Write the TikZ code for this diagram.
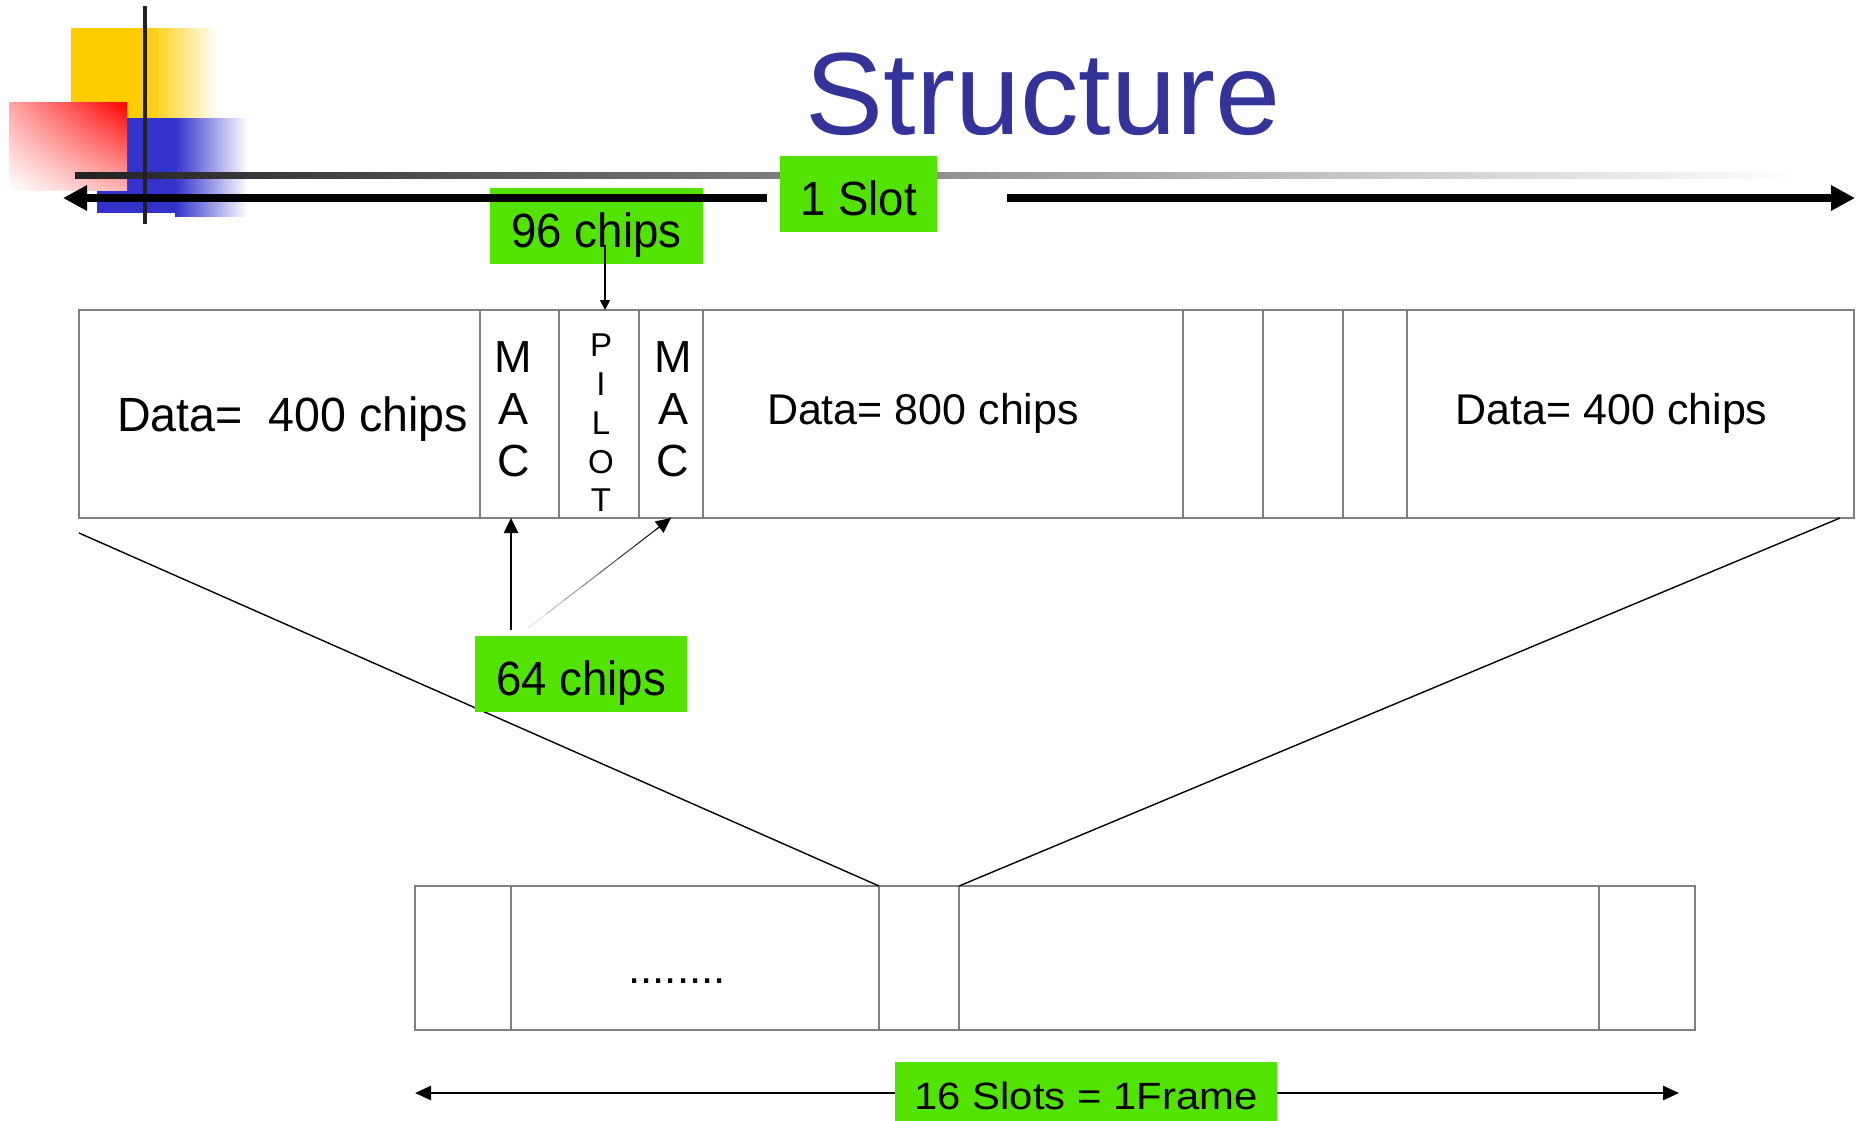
\documentclass[tikz,border=0pt]{standalone}
\usepackage{fontspec}
\setmainfont{Liberation Sans}
\newfontfamily\wideleft[FakeStretch=0.97]{Liberation Sans}
\newfontfamily\widemid[FakeStretch=1.0]{Liberation Sans}
\newfontfamily\labelfont[FakeStretch=0.95]{Liberation Sans}
\newfontfamily\framefont[FakeStretch=1.1]{Liberation Sans}
\usetikzlibrary{arrows.meta,calc,shadings}
\definecolor{titleblue}{RGB}{51,51,153}
\definecolor{lblgreen}{RGB}{82,227,0}
\definecolor{cellgray}{RGB}{128,128,128}
\definecolor{decoyellow}{RGB}{255,204,0}
\definecolor{decoblue}{RGB}{51,51,204}
\definecolor{decored}{RGB}{255,0,0}
\begin{document}
\begin{tikzpicture}[x=0.5pt,y=-0.5pt,
  cell/.style={draw=cellgray, line width=0.65pt, inner sep=0pt, outer sep=0pt, minimum height=104pt},
  fcell/.style={draw=cellgray, line width=0.8pt, inner sep=0pt, outer sep=0pt, minimum height=72pt},
  greenlbl/.style={fill=lblgreen, inner sep=0pt, outer sep=0pt, text height=21pt, text depth=0pt,
     font=\labelfont\fontsize{24}{28}\selectfont},
  txt/.style={anchor=base, inner sep=0pt, outer sep=0pt},
  stack/.style={anchor=north, align=center, inner sep=0pt, outer sep=0pt},
  thinline/.style={line width=0.7pt, black},
]
\useasboundingbox (0,0) rectangle (1866,1120);

% decoration
\fill[decoyellow] (71,28) rectangle (148,118);
\shade[left color=decoyellow, right color=white] (147,28) rectangle (218,118);
\fill[decoblue] (97,118) rectangle (176,213);
\shade[left color=decoblue, right color=white] (175,118) rectangle (248,216);
\shade[upper right=decored, lower left=white, upper left=decored!35, lower right=decored!30] (9,102) rectangle (127,190);
\shade[left color=black!87, middle color=black!27, right color=white] (75,172) rectangle (1800,178);
\fill[black!87] (143,6) rectangle (147,224);

% title
\node[txt, font=\fontsize{58.5}{60}\selectfont, text=titleblue] (title) at (1043,134) {Structure};

% 96 chips label and top arrow
\node[greenlbl, minimum width=106.5pt, minimum height=38pt] (chips96) at (596.5,226) {96 chips};
\coordinate (aLs) at (767,198);
\coordinate (aLe) at (63,198);
\coordinate (aRs) at (1007,198);
\coordinate (aRe) at (1855,198);
\draw[line width=4pt, -{Triangle[length=12pt,width=12pt]}] (aLs) -- (aLe);
\draw[line width=4pt, -{Triangle[length=12pt,width=12pt]}] (aRs) -- (aRe);
\node[greenlbl, minimum width=78.5pt, minimum height=38pt] (slot1) at (858.5,194) {1 Slot};

% slot cells
\node[cell, minimum width=200.5pt] (d1) at (279.5,414) {};
\node[cell, minimum width=39.5pt] (mac1) at (519.5,414) {};
\node[cell, minimum width=40pt] (pilot) at (599,414) {};
\node[cell, minimum width=32pt] (mac2) at (671,414) {};
\node[cell, minimum width=240pt] (d2) at (943,414) {};
\node[cell, minimum width=40pt] (e1) at (1223,414) {};
\node[cell, minimum width=40pt] (e2) at (1303,414) {};
\node[cell, minimum width=32pt] (e3) at (1375,414) {};
\node[cell, minimum width=223.5pt] (d3) at (1630.5,414) {};

\node[txt, font=\wideleft\fontsize{24}{28}\selectfont] (t1) at (292.5,431) {Data=\ \ 400 chips};
\node[txt, font=\widemid\fontsize{21.5}{24}\selectfont] (t2) at (923,424) {Data= 800 chips};
\node[txt, font=\widemid\fontsize{21.5}{24}\selectfont] (t3) at (1611.5,424) {Data= 400 chips};
\node[stack, font=\fontsize{22.5}{26}\selectfont] (mtxt1) at (513.5,342) {M\\A\\C};
\node[stack, font=\fontsize{22.5}{26}\selectfont] (mtxt2) at (673,342) {M\\A\\C};
\node[stack, font=\fontsize{16.5}{19.4}\selectfont] (ptxt) at (601,334) {P\\I\\L\\O\\T};

% 96 chips arrow
\coordinate (c96) at (605,245);
\draw[line width=0.8pt, -{Triangle[length=5pt,width=5pt]}] (c96) -- (c96 |- pilot.north);

% frame cells
\node[fcell, minimum width=48pt] (f1) at (463,958) {};
\node[fcell, minimum width=184pt] (f2) at (695,958) {};
\node[fcell, minimum width=40pt] (f3) at (919,958) {};
\node[fcell, minimum width=320pt] (f4) at (1279,958) {};
\node[fcell, minimum width=48pt] (f5) at (1647,958) {};
\node[txt, font=\fontsize{22}{24}\selectfont] (dots) at (677,983) {........};

% zoom lines
\coordinate (zl) at (79,533);
\coordinate (zr) at (1840,518);
\draw[thinline] (zl) -- (f3.north west);
\draw[thinline] (zr) -- (f3.north east);

% 64 chips label and arrows
\node[greenlbl, minimum width=106pt, minimum height=38pt] (chips64) at (581,674) {64 chips};
\coordinate (c64a) at (511,630);
\coordinate (c64b) at (528,628);
\draw[line width=1.3pt, -{Triangle[length=7.5pt,width=7pt]}] (c64a) -- (c64a |- mac1.south);
\foreach \i/\c in {0/12,1/25,2/38,3/52,4/66,5/80,6/92,7/100} {
  \draw[line width=0.5pt, black!\c] ($(c64b)!{\i/8}!(mac2.south)$) -- ($(c64b)!{(\i+1)/8}!(mac2.south)$);
}
\draw[line width=0.5pt, -{Triangle[length=7.5pt,width=7pt]}] ($(c64b)!0.9!(mac2.south)$) -- (mac2.south);

% frame arrow
\coordinate (fL) at (415,1093);
\coordinate (fR) at (1679,1093);
\draw[line width=1.35pt, {Triangle[length=8pt,width=7pt]}-{Triangle[length=8pt,width=7pt]}] (fL) -- (fR);
\node[fill=lblgreen, inner sep=0pt, outer sep=0pt, text height=17pt, text depth=0pt,
  font=\framefont\fontsize{19}{22}\selectfont, minimum width=191pt, minimum height=30pt] (frame) at (1086,1092) {16 Slots = 1Frame};
\end{tikzpicture}
\end{document}
